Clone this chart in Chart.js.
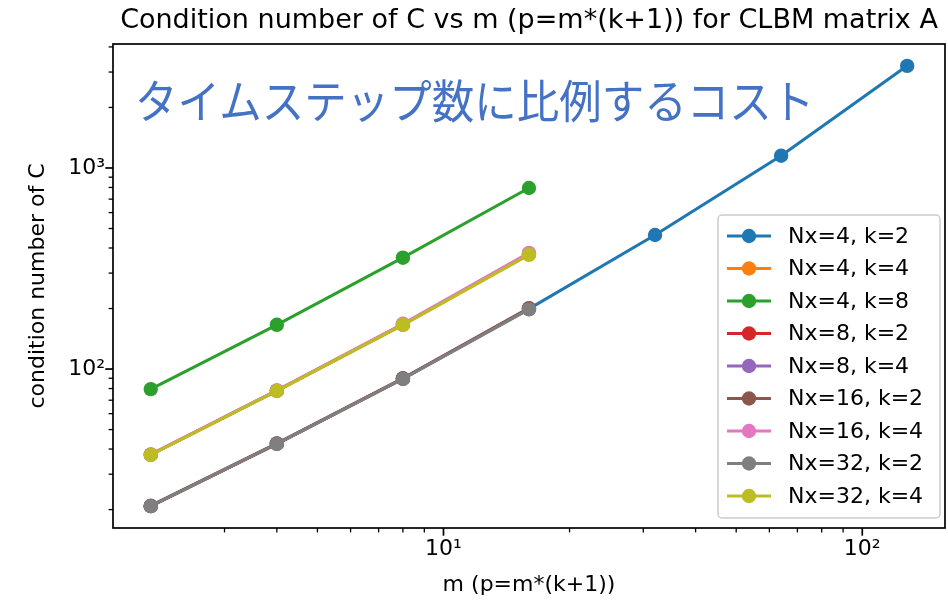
<!DOCTYPE html>
<html>
<head>
<meta charset="utf-8">
<script src="https://cdn.jsdelivr.net/npm/chart.js@4.4.1/dist/chart.umd.min.js"></script>
<style>
  html, body { margin: 0; padding: 0; background: #fff; }
  #wrap { position: relative; width: 948px; height: 602px; }
  #note {
    position: absolute; left: 135px; top: 76px;
    font-family: "Noto Sans CJK JP", sans-serif; font-size: 42.5px;
    color: #4472C4; white-space: nowrap; line-height: 1;
    transform: scaleY(1.08); transform-origin: 0 0;
  }
</style>
</head>
<body>
<div id="wrap">
  <canvas id="c" width="948" height="602"></canvas>
  <div id="note">タイムステップ数に比例するコスト</div>
</div>
<script>
// m values (p = m*(k+1))
const mValues = [2, 4, 8, 16, 32, 64, 128];

// condition number of C for each (Nx, k) run
const condNx4k2  = [20.8, 42.5, 89.5, 199, 464, 1150, 3220];
const condNx4k4  = [37.5, 78.0, 166, 372];
const condNx4k8  = [79.5, 166, 358, 795];
const condNx8k2  = [20.8, 42.5, 89.6, 200];
const condNx8k4  = [37.5, 78.1, 167, 374];
const condNx16k2 = [20.9, 42.7, 90.0, 201];
const condNx16k4 = [37.6, 78.3, 168, 378];
const condNx32k2 = [20.8, 42.4, 89.4, 198];
const condNx32k4 = [37.4, 77.8, 166, 370];

const seriesLabels = [
  'Nx=4, k=2', 'Nx=4, k=4', 'Nx=4, k=8', 'Nx=8, k=2', 'Nx=8, k=4',
  'Nx=16, k=2', 'Nx=16, k=4', 'Nx=32, k=2', 'Nx=32, k=4'
];
const seriesValues = [
  condNx4k2, condNx4k4, condNx4k8, condNx8k2, condNx8k4,
  condNx16k2, condNx16k4, condNx32k2, condNx32k4
];
const seriesColors = [
  '#1f77b4', '#ff7f0e', '#2ca02c', '#d62728', '#9467bd',
  '#8c564b', '#e377c2', '#7f7f7f', '#bcbd22'
];

const FONT = "'DejaVu Sans', sans-serif";
const SUP = { '0': '⁰', '1': '¹', '2': '²', '3': '³', '4': '⁴' };

function mantissa(v) {
  const e = Math.floor(Math.log10(v) + 1e-9);
  return { m: v / Math.pow(10, e), e };
}
function isInt(x) { return Math.abs(x - Math.round(x)) < 1e-6; }

function powLabel(v) {
  const { m, e } = mantissa(v);
  if (Math.abs(m - 1) < 1e-6) return '10' + String(e).split('').map(c => SUP[c] || c).join('');
  return '';
}

const datasets = seriesValues.map((vals, i) => ({
  label: seriesLabels[i],
  data: vals.map((v, j) => ({ x: mValues[j], y: v })),
  borderColor: seriesColors[i],
  backgroundColor: seriesColors[i],
  pointBackgroundColor: seriesColors[i],
  pointBorderColor: seriesColors[i],
  pointBorderWidth: 0,
  pointRadius: 7.2,
  pointHoverRadius: 7.2,
  borderWidth: 3.1,
  tension: 0,
  fill: false,
  order: seriesValues.length - i
}));

// axes frame and matplotlib-style major/minor tick marks
const frameTicks = {
  id: 'frameTicks',
  afterDatasetsDraw(chart) {
    const { ctx, chartArea: a, scales: { x, y } } = chart;
    ctx.save();
    ctx.strokeStyle = '#000';
    ctx.lineCap = 'butt';
    const drawTicks = (scale, horiz) => {
      for (const t of scale.ticks) {
        const { m } = mantissa(t.value);
        if (!isInt(m)) continue;
        const major = Math.abs(m - 1) < 1e-6;
        const len = major ? 7.7 : 4.4;
        ctx.lineWidth = major ? 1.7 : 1.3;
        const p = scale.getPixelForValue(t.value);
        ctx.beginPath();
        if (horiz) {
          if (p < a.left - 0.5 || p > a.right + 0.5) continue;
          ctx.moveTo(p, a.bottom); ctx.lineTo(p, a.bottom + len);
        } else {
          if (p < a.top - 0.5 || p > a.bottom + 0.5) continue;
          ctx.moveTo(a.left, p); ctx.lineTo(a.left - len, p);
        }
        ctx.stroke();
      }
    };
    drawTicks(x, true);
    drawTicks(y, false);
    ctx.lineWidth = 1.7;
    ctx.strokeRect(a.left, a.top, a.right - a.left, a.bottom - a.top);
    ctx.restore();
  }
};

// legend box in the lower right of the axes
const boxLegend = {
  id: 'boxLegend',
  afterDraw(chart) {
    const { ctx } = chart;
    const x0 = 718, y0 = 215, w = 222, h = 303;
    ctx.save();
    ctx.beginPath();
    ctx.roundRect(x0, y0, w, h, 4);
    ctx.fillStyle = 'rgba(255,255,255,0.8)';
    ctx.fill();
    ctx.strokeStyle = '#cccccc';
    ctx.lineWidth = 1.5;
    ctx.stroke();
    ctx.font = '22px ' + FONT;
    ctx.textBaseline = 'middle';
    ctx.textAlign = 'left';
    chart.data.datasets.forEach((ds, i) => {
      const cy = 236 + i * 32.5;
      ctx.strokeStyle = ds.borderColor;
      ctx.lineWidth = 3.1;
      ctx.beginPath();
      ctx.moveTo(727, cy); ctx.lineTo(771, cy);
      ctx.stroke();
      ctx.fillStyle = ds.borderColor;
      ctx.beginPath();
      ctx.arc(749, cy, 7.2, 0, Math.PI * 2);
      ctx.fill();
      ctx.fillStyle = '#000';
      ctx.fillText(ds.label, 788, cy + 1);
    });
    ctx.restore();
  }
};

new Chart(document.getElementById('c'), {
  type: 'line',
  data: { datasets },
  options: {
    responsive: false,
    animation: false,
    events: [],
    layout: { autoPadding: false, padding: { left: 0, right: 3, top: 0, bottom: 0 } },
    plugins: {
      legend: { display: false },
      tooltip: { enabled: false },
      title: {
        display: true,
        fullSize: false,
        text: 'Condition number of C vs m (p=m*(k+1)) for CLBM matrix A',
        color: '#000',
        font: { family: FONT, size: 27, weight: 'normal', lineHeight: 1.2 },
        padding: { top: 5, bottom: 6.6 }
      }
    },
    scales: {
      x: {
        type: 'logarithmic',
        min: 1.625,
        max: 157.6,
        grid: { display: false, drawTicks: false },
        border: { display: false },
        afterFit(s) { s.height = 74; s.paddingLeft = 0; s.paddingRight = 0; },
        ticks: {
          autoSkip: false,
          maxRotation: 0,
          padding: 8,
          color: '#000',
          font: { family: FONT, size: 22 },
          callback: (v) => powLabel(v)
        },
        title: {
          display: true,
          text: 'm (p=m*(k+1))',
          color: '#000',
          font: { family: FONT, size: 22, lineHeight: 1.2 },
          padding: { top: 0, bottom: 4 }
        }
      },
      y: {
        type: 'logarithmic',
        min: 16.2,
        max: 4136,
        grid: { display: false, drawTicks: false },
        border: { display: false },
        afterFit(s) { s.width = 113; s.paddingTop = 0; s.paddingBottom = 0; },
        ticks: {
          autoSkip: false,
          padding: 8,
          color: '#000',
          font: { family: FONT, size: 22 },
          callback: (v) => powLabel(v)
        },
        title: {
          display: true,
          text: 'condition number of C',
          color: '#000',
          font: { family: FONT, size: 22, lineHeight: 1.2 },
          padding: { top: 25, bottom: 0 }
        }
      }
    }
  },
  plugins: [frameTicks, boxLegend]
});
</script>
</body>
</html>
